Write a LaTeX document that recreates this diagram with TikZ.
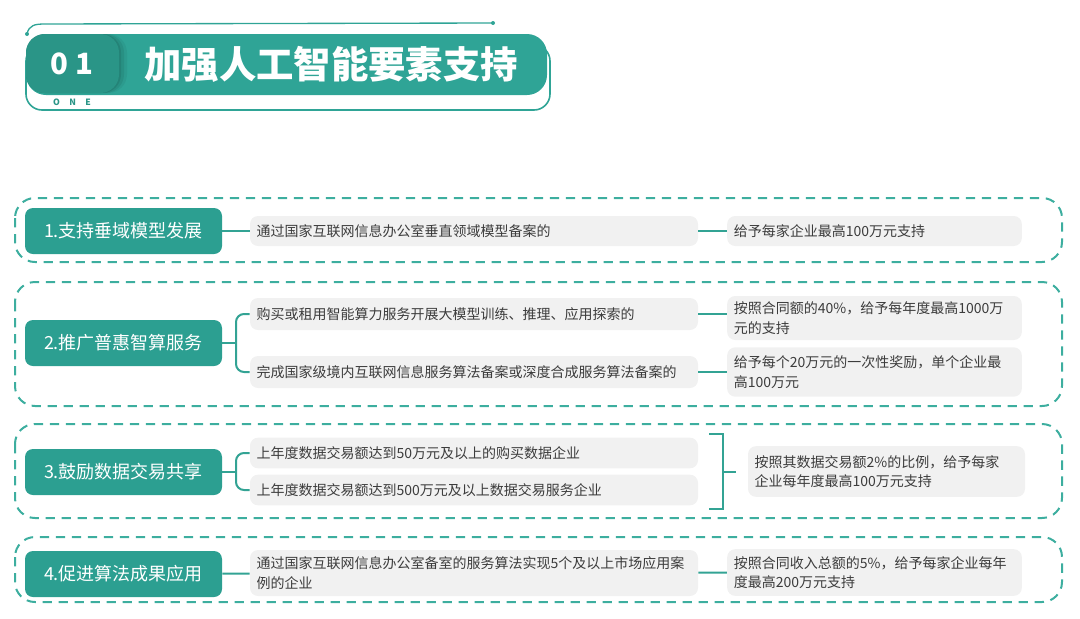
\documentclass[tikz,border=0pt]{standalone}
\usepackage{fontspec}
\setmainfont{Noto Sans CJK SC}
\usetikzlibrary{positioning}
\definecolor{barteal}{HTML}{2FA496}
\definecolor{numteal}{HTML}{2A9587}
\definecolor{boxteal}{HTML}{2C9F91}
\definecolor{dashteal}{HTML}{3DAE9F}
\definecolor{lineteal}{HTML}{33A394}
\definecolor{itemgrey}{HTML}{F1F1F1}
\definecolor{textgrey}{HTML}{3C3C3C}

\begin{document}
\begin{tikzpicture}[x=0.75pt, y=-0.75pt,
      label/.style={fill=boxteal, rounded corners=6pt, text=white,
                    font=\fontsize{13.5}{16}\selectfont,
                    minimum width=147.75pt, minimum height=34.5pt},
      item/.style={fill=itemgrey, rounded corners=6pt, text=textgrey,
                   font=\fontsize{10.5}{14.5}\selectfont, align=left,
                   inner xsep=5pt, inner ysep=2pt},
      mid/.style={item, text width=326pt},
      res/.style={item, text width=211pt},
      sect/.style={draw=dashteal, dashed, dash pattern=on 7pt off 5pt,
                   line width=1.5pt, rounded corners=15pt},
      conn/.style={draw=lineteal, line width=1.5pt}]
    \useasboundingbox (0,0) rectangle (1080,618);

    % header
    \draw[barteal, line width=1.2pt, rounded corners=12pt] (26,45) rectangle (550,110);
    \draw[barteal, line width=1pt] (27,34) .. controls (29,25) and (35,24) .. (45,24) -- (493,23);
    \fill[barteal] (27,34) circle (2) (493,23) circle (2);
    \fill[barteal, rounded corners=15pt] (26,34) rectangle (547,95);
    \foreach \s/\o in {8/0.05, 5/0.07, 2/0.09}
      \fill[black, opacity=\o, rounded corners=14pt] (26,34) rectangle (119+\s,93);
    \fill[numteal, rounded corners=14pt] (26,34) rectangle (119,93);
    \node[text=white, font=\fontsize{22}{24}\bfseries] (num) at (72,64) {0\hspace{6pt}1};
    \node[text=numteal, font=\fontsize{6.5}{7}\bfseries] (one) at (72,102) {O\hspace{7pt}N\hspace{7pt}E};
    \node[text=white, font=\fontsize{28}{30}\bfseries] (title) at (331,64) {加强人工智能要素支持};

    % sections
    \draw[sect] (15,198) rectangle (1062,262);
    \draw[sect] (15,282) rectangle (1062,406);
    \draw[sect] (15,424) rectangle (1062,518);
    \draw[sect] (15,537) rectangle (1062,602);

    % 1
    \node[label] (l1) at (123.5,231) {1.支持垂域模型发展};
    \node[mid, minimum height=22.5pt] (m1) at (474,231) {通过国家互联网信息办公室垂直领域模型备案的};
    \node[res, minimum height=22.5pt] (r1) at (874.5,231) {给予每家企业最高100万元支持};
    \draw[conn] (l1) -- (m1);
    \draw[conn] (m1) -- (r1);

    % 2
    \node[label] (l2) at (123.5,343) {2.推广普惠智算服务};
    \node[mid, minimum height=24pt] (m2a) at (474,314) {购买或租用智能算力服务开展大模型训练、推理、应用探索的};
    \node[mid, minimum height=24pt] (m2b) at (474,372) {完成国家级境内互联网信息服务算法备案或深度合成服务算法备案的};
    \node[res, minimum height=33pt] (r2a) at (874.5,318) {按照合同额的40\%，给予每年度最高1000万\\元的支持};
    \node[res, minimum height=37pt] (r2b) at (874.5,372) {给予每个20万元的一次性奖励，单个企业最\\高100万元};
    \coordinate (k2) at (236,343);
    \draw[conn] (l2) -- (k2);
    \draw[conn, rounded corners=6pt] (m2a.west) -| (k2) |- (m2b.west);
    \draw[conn] (m2a.east) -- (m2a.east -| r2a.west);
    \draw[conn] (m2b.east) -- (m2b.east -| r2b.west);

    % 3
    \node[label] (l3) at (123.5,472) {3.鼓励数据交易共享};
    \node[mid, minimum height=23pt] (m3a) at (474,453) {上年度数据交易额达到50万元及以上的购买数据企业};
    \node[mid, minimum height=23pt] (m3b) at (474,490) {上年度数据交易额达到500万元及以上数据交易服务企业};
    \node[item, text width=197.75pt, minimum height=38pt] (r3) at (886.5,471.5) {按照其数据交易额2\%的比例，给予每家\\企业每年度最高100万元支持};
    \coordinate (k3) at (236,472);
    \draw[conn] (l3) -- (k3);
    \draw[conn, rounded corners=6pt] (m3a.west) -| (k3) |- (m3b.west);
    \coordinate (j3) at (723,472);
    \coordinate (j3t) at (709,434);
    \coordinate (j3b) at (709,509);
    \coordinate (j3s) at (736,472);
    \draw[conn] (j3t) -| (j3) |- (j3b);
    \draw[conn] (j3) -- (j3s);

    % 4
    \node[label] (l4) at (123.5,574) {4.促进算法成果应用};
    \node[mid, minimum height=34.5pt] (m4) at (474,573) {通过国家互联网信息办公室备室的服务算法实现5个及以上市场应用案\\例的企业};
    \node[res, minimum height=35pt] (r4) at (874.5,572.5) {按照合同收入总额的5\%，给予每家企业每年\\度最高200万元支持};
    \draw[conn] (l4) -- (m4);
    \draw[conn] (m4) -- (r4);
  \end{tikzpicture}
\end{document}
